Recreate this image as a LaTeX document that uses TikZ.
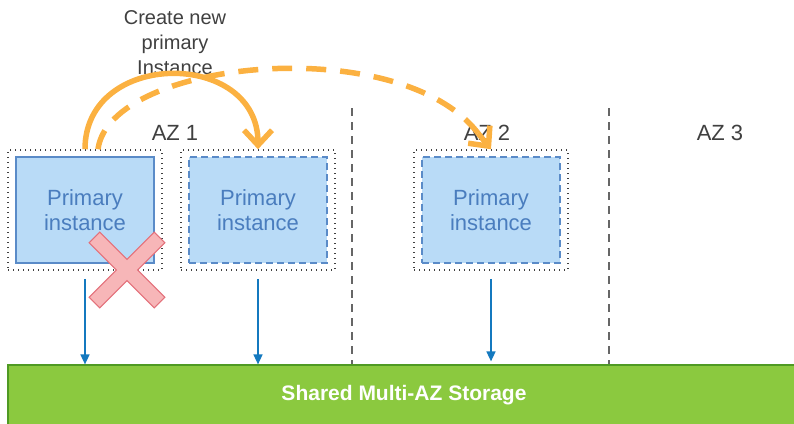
\documentclass[tikz,border=0pt]{standalone}
\usepackage{fontspec}
\setmainfont{Liberation Sans}
\usetikzlibrary{arrows.meta,positioning}

\definecolor{instfill}{HTML}{B9DBF7}
\definecolor{instline}{HTML}{5A8BC8}
\definecolor{insttext}{HTML}{4A7DBE}
\definecolor{failorange}{HTML}{FBB141}
\definecolor{storgreen}{HTML}{8BC93F}
\definecolor{storline}{HTML}{4F9A23}
\definecolor{writeblue}{HTML}{1479BF}
\definecolor{crossfill}{HTML}{F7B6B8}
\definecolor{crossline}{HTML}{E3707A}
\definecolor{labelgray}{HTML}{404040}

\begin{document}
\begin{tikzpicture}[x=1pt,y=-1pt,
  wrap/.style={draw=black!75,line width=1.6pt,dash pattern=on 1.4pt off 3.6pt,
    minimum width=154pt,minimum height=120pt,inner sep=0pt},
  inst/.style={draw=instline,fill=instfill,line width=1.5pt,minimum width=138pt,
    minimum height=106pt,inner sep=0pt,align=center,text=insttext,
    font=\fontsize{22}{25}\selectfont},
  standby/.style={inst,dashed,dash pattern=on 7pt off 4pt},
  azlabel/.style={text=labelgray,font=\fontsize{22}{25}\selectfont},
  azline/.style={draw=black!60,line width=2pt,dash pattern=on 8pt off 6pt},
  writearrow/.style={draw=writeblue,line width=1.6pt,-{Triangle[length=10pt,width=9pt]}},
  failline/.style={draw=failorange,line width=5.5pt},
  failover/.style={failline,-{Straight Barb[length=15pt,width=28pt,line width=5.5pt]}}]
  \useasboundingbox (0,0) rectangle (794,423);

  % shared storage
  \node[draw=storline,fill=storgreen,line width=1.2pt,minimum width=792pt,minimum height=60pt,
    text=white,font=\fontsize{21}{24}\bfseries] (storage) at (404,395)
    {Shared Multi-AZ Storage};

  % AZ boundaries and labels
  \coordinate (sep12) at (352,108);
  \coordinate (sep23) at (609,108);
  \draw[azline] (sep12) -- (sep12 |- storage.north);
  \draw[azline] (sep23) -- (sep23 |- storage.north);
  \node[azlabel] (az1) at (175,133) {AZ 1};
  \node[azlabel] (az2) at (487,133) {AZ 2};
  \node[azlabel] (az3) at (720,133) {AZ 3};

  % instances
  \node[wrap] (wrap1) at (85,210) {};
  \node[wrap] (wrap2) at (258,210) {};
  \node[wrap] (wrap3) at (491,210) {};
  \node[inst] (inst1) at (wrap1) {Primary\\instance};
  \node[standby] (inst2) at (wrap2) {Primary\\instance};
  \node[standby] (inst3) at (wrap3) {Primary\\instance};

  % writes to storage
  \draw[writearrow] ([yshift=-8pt]wrap1.south) -- (wrap1.south |- storage.north);
  \draw[writearrow] ([yshift=-8pt]wrap2.south) -- (wrap2.south |- storage.north);
  \draw[writearrow] ([yshift=-8pt]wrap3.south) -- ([yshift=3pt]wrap3.south |- storage.north);

  % failed instance
  \begin{scope}[shift={(127,270)},rotate=45]
    \draw[fill=crossfill,draw=crossline,line width=1pt]
      (46,7.5) -- (7.5,7.5) -- (7.5,46) -- (-7.5,46) -- (-7.5,7.5) -- (-46,7.5)
      -- (-46,-7.5) -- (-7.5,-7.5) -- (-7.5,-46) -- (7.5,-46) -- (7.5,-7.5)
      -- (46,-7.5) -- cycle;
  \end{scope}

  % failover
  \node[align=center,text=labelgray,font=\fontsize{20}{25}\selectfont] (create) at (175,43)
    {Create new\\primary\\Instance};
  \draw[failover] (wrap1.north) .. controls +(0,-100) and +(0,-100) .. (wrap2.north);
  \coordinate (bend3) at ([shift={(-13,-16)}]wrap3.north);
  \draw[failline,dash pattern=on 20pt off 14pt] ([xshift=13pt]wrap1.north)
    .. controls +(12,-90) and +(-78,-102) .. (bend3);
  \draw[failover] (bend3) -- (wrap3.north);
\end{tikzpicture}
\end{document}
